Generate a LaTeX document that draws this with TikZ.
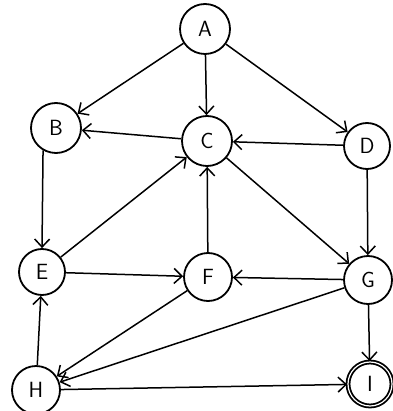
\documentclass[tikz,border=0pt]{standalone}
\usetikzlibrary{arrows.meta}
\begin{document}
\begin{tikzpicture}[x=1pt,y=-1pt,
  st/.style={circle,draw,line width=1.8pt,minimum size=50pt,inner sep=0pt,font=\sffamily\fontsize{22}{22}\selectfont},
  ed/.style={line width=1.5pt,-{Straight Barb[length=8pt,width=15pt,line width=1.5pt]}}]
\useasboundingbox (0,0) rectangle (392,411);
\node[st] (A) at (205,29) {A};
\node[st] (B) at (56,128) {B};
\node[st] (C) at (207,141) {C};
\node[st,minimum size=46pt] (D) at (367,146) {D};
\node[st,minimum size=46pt] (E) at (42,272) {E};
\node[st,minimum size=48pt] (F) at (208,277) {F};
\node[st,minimum size=48pt] (G) at (368,280) {G};
\node[st,minimum size=48pt] (H) at (36,390) {H};
\node[st,double,double distance=1.2pt,minimum size=44pt] (I) at (370,384) {I};
\draw[ed] (A) -- (B);
\draw[ed] (A) -- (C);
\draw[ed] (A) -- (D);
\draw[ed] (C) -- (B);
\draw[ed] (D) -- (C);
\draw[ed] (B.240) -- (E.north);
\draw[ed] (D) -- (G);
\draw[ed] (E) -- (C);
\draw[ed] (F) -- (C);
\draw[ed] (C) -- (G);
\draw[ed] (E) -- (F);
\draw[ed] (G) -- (F);
\draw[ed] (F) -- (H);
\draw[ed] (G) -- (H);
\draw[ed] (H) -- (E);
\draw[ed] (H) -- (I);
\draw[ed] (G) -- (I);
\end{tikzpicture}
\end{document}
